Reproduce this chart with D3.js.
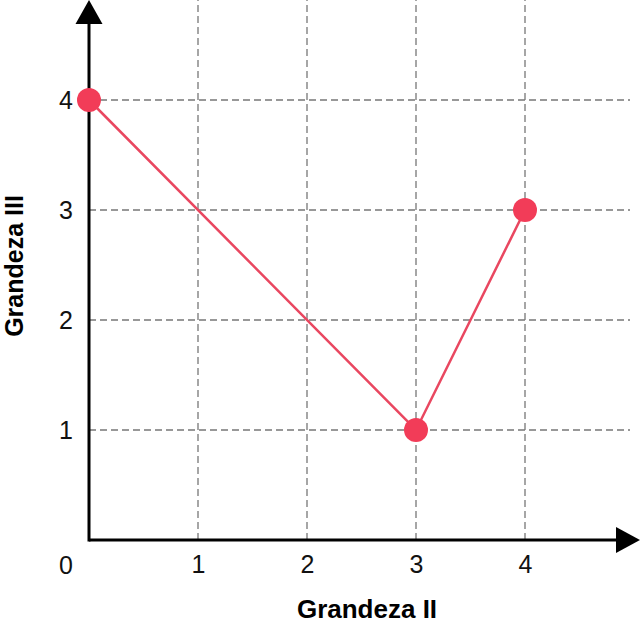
<!DOCTYPE html>
<html>
<head>
<meta charset="utf-8">
<script src="https://cdn.jsdelivr.net/npm/d3@7"></script>
<style>
  body { margin: 0; background: #fff; }
  svg { display: block; font-family: "Liberation Sans", Arial, sans-serif; }
</style>
</head>
<body>
<svg width="640" height="628"></svg>
<script>
// data
var xValues = [0, 3, 4];
var yValues = [4, 1, 3];
var xTicks = [1, 2, 3, 4];
var yTicks = [1, 2, 3, 4];
var xTitle = "Grandeza II";
var yTitle = "Grandeza III";

var svg = d3.select("svg");
var pts = xValues.map(function(d, i){ return {x: d, y: yValues[i]}; });

var x = d3.scaleLinear().domain([0, 4]).range([89, 525]);
var y = d3.scaleLinear().domain([0, 4]).range([540, 100]);

// dashed grid
var grid = svg.append("g").attr("stroke", "#777").attr("stroke-width", 1.3)
  .attr("stroke-dasharray", "7,4");
grid.selectAll(".vg").data(xTicks).enter().append("line")
  .attr("x1", function(d){ return x(d); }).attr("x2", function(d){ return x(d); })
  .attr("y1", y(0)).attr("y2", 0);
grid.selectAll(".hg").data(yTicks).enter().append("line")
  .attr("y1", function(d){ return y(d); }).attr("y2", function(d){ return y(d); })
  .attr("x1", x(0)).attr("x2", 630);

// axes with arrow heads
svg.append("line").attr("x1", x(0)).attr("x2", 620).attr("y1", y(0)).attr("y2", y(0))
  .attr("stroke", "#000").attr("stroke-width", 3);
svg.append("line").attr("x1", x(0)).attr("x2", x(0)).attr("y1", y(0) + 1.5).attr("y2", 20)
  .attr("stroke", "#000").attr("stroke-width", 3);
svg.append("path").attr("d", "M640," + y(0) + "L616," + (y(0) - 13) + "L616," + (y(0) + 13) + "Z");
svg.append("path").attr("d", "M" + x(0) + ",0L" + (x(0) - 13.5) + ",24L" + (x(0) + 13.5) + ",24Z");

// tick labels through d3 axes
var xAxis = svg.append("g").attr("transform", "translate(0," + y(0) + ")")
  .call(d3.axisBottom(x).tickValues(xTicks).tickSize(0).tickPadding(15).tickFormat(d3.format("d")));
var yAxis = svg.append("g").attr("transform", "translate(" + x(0) + ",0)")
  .call(d3.axisLeft(y).tickValues(yTicks).tickSize(0).tickPadding(16).tickFormat(d3.format("d")));
[xAxis, yAxis].forEach(function(a){
  a.select(".domain").remove();
  a.selectAll("text").attr("font-size", "25px").attr("font-family", "'Liberation Sans', Arial, sans-serif").attr("fill", "#111");
});
yAxis.selectAll("text").attr("text-anchor", "middle").attr("x", -23).attr("dy", "0.35em");
svg.append("text").attr("x", x(0) - 23).attr("y", y(0) + 25).attr("dy", "0.35em")
  .attr("text-anchor", "middle").attr("font-size", "25px").attr("fill", "#111").text("0");

// titles
svg.append("text").attr("x", 367).attr("y", 618).attr("text-anchor", "middle")
  .attr("font-size", "26px").attr("font-weight", "bold").text(xTitle);
svg.append("text").attr("transform", "translate(23,266) rotate(-90)").attr("text-anchor", "middle")
  .attr("font-size", "25px").attr("font-weight", "bold").text(yTitle);

// line and points
var line = d3.line().x(function(d){ return x(d.x); }).y(function(d){ return y(d.y); });
svg.append("path").datum(pts).attr("d", line).attr("fill", "none")
  .attr("stroke", "#e94760").attr("stroke-width", 2.5);
svg.selectAll(".pt").data(pts).enter().append("circle")
  .attr("cx", function(d){ return x(d.x); }).attr("cy", function(d){ return y(d.y); })
  .attr("r", 12).attr("fill", "#f23c58");
</script>
</body>
</html>
